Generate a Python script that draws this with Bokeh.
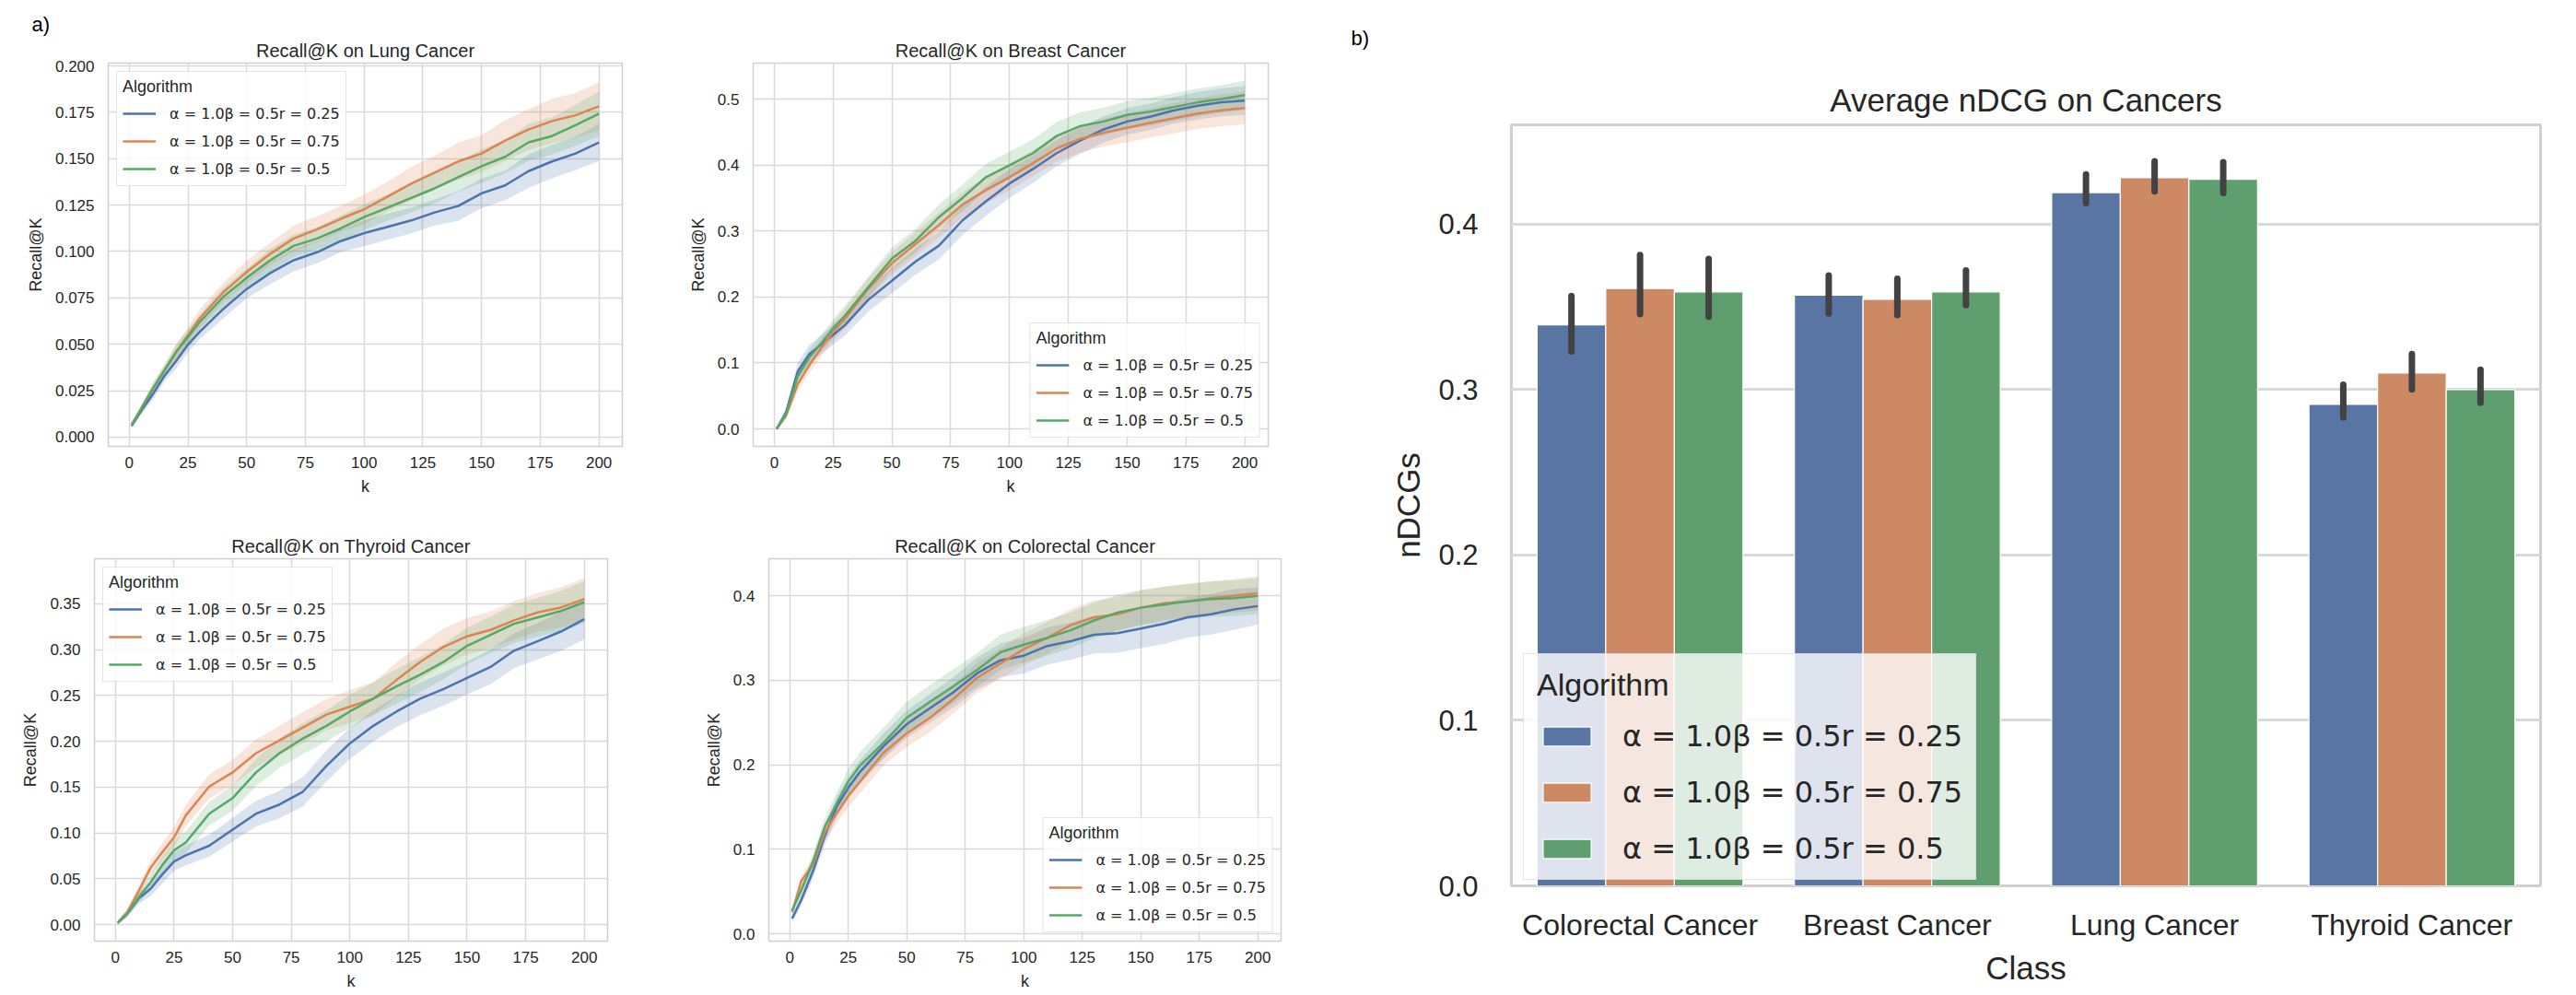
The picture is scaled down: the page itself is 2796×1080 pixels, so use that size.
from bokeh.plotting import figure
from bokeh.layouts import row, column
from bokeh.models import (Range1d, FactorRange, FixedTicker, PrintfTickFormatter,
                          Legend, LegendItem, Title, ColumnDataSource)
from bokeh.transform import dodge
from bokeh.embed import file_html
from bokeh.resources import INLINE

# ---------------- data ----------------
K = [1, 5, 10, 15, 20, 25, 30, 40, 50, 60, 70, 80, 90, 100, 110, 120, 130, 140, 150, 160, 170, 180, 190, 200]
ALGOS = ["α = 1.0β = 0.5r = 0.25", "α = 1.0β = 0.5r = 0.75", "α = 1.0β = 0.5r = 0.5"]

# Lung
lung_r025 = [.006, .014, .023, .033, .041, .0498, .0567, .069, .0798, .0884, .0953, .0996, .1056, .1099, .1133, .1167, .121, .1245, .1313, .1356, .1433, .1485, .1528, .1588]
lung_r075 = [.0069, .015, .026, .036, .046, .055, .064, .078, .089, .0987, .107, .112, .1176, .1227, .1296, .1365, .1425, .1485, .1528, .1597, .1657, .1703, .1734, .1782]
lung_r05 = [.006, .015, .026, .036, .046, .054, .062, .0755, .0858, .0953, .103, .107, .1124, .1185, .1236, .1288, .134, .140, .146, .151, .1588, .1622, .168, .1742]
lung_ci_r025 = [.001, .002, .003, .003, .004, .004, .004, .005, .005, .006, .006, .006, .006, .007, .007, .007, .007, .008, .008, .008, .009, .009, .009, .010]
lung_ci_r075 = [.001, .002, .003, .003, .004, .004, .005, .005, .006, .006, .007, .007, .007, .008, .008, .009, .009, .010, .010, .011, .011, .012, .012, .013]
lung_ci_r05 = [.001, .002, .003, .003, .004, .004, .004, .005, .005, .006, .006, .006, .007, .007, .007, .008, .008, .008, .009, .009, .010, .010, .011, .012]

# Breast
breast_r025 = [0.0, .025, .087, .1135, .128, .1425, .157, .1957, .2246, .2536, .2778, .316, .345, .372, .394, .418, .437, .454, .466, .4734, .483, .490, .495, .4976]
breast_r075 = [0.0, .020, .068, .097, .123, .147, .1667, .2126, .251, .280, .309, .340, .362, .3816, .403, .425, .4396, .449, .4565, .464, .471, .478, .483, .4865]
breast_r05 = [0.0, .022, .080, .109, .130, .152, .1715, .215, .258, .285, .321, .350, .3816, .3995, .418, .444, .459, .466, .476, .481, .488, .495, .500, .506]
breast_ci_r025 = [.002, .005, .013, .014, .014, .015, .016, .018, .019, .020, .021, .022, .022, .022, .021, .020, .020, .020, .020, .020, .020, .021, .021, .022]
breast_ci_r075 = [.002, .005, .011, .012, .013, .014, .015, .016, .017, .018, .019, .019, .020, .020, .020, .020, .021, .021, .022, .022, .023, .023, .024, .025]
breast_ci_r05 = [.002, .005, .011, .012, .013, .014, .015, .016, .017, .018, .019, .020, .020, .021, .021, .021, .021, .021, .021, .021, .021, .021, .021, .022]

# Thyroid
thyroid_r025 = [.002, .012, .0286, .039, .0547, .0687, .0756, .086, .1035, .121, .131, .145, .173, .1976, .2168, .2325, .2464, .257, .269, .281, .2987, .309, .3196, .333]
thyroid_r075 = [.002, .013, .037, .062, .079, .095, .119, .1506, .166, .187, .201, .215, .229, .2377, .2464, .267, .2865, .303, .3144, .3214, .3318, .3405, .3458, .355]
thyroid_r05 = [.002, .012, .030, .046, .065, .081, .0896, .121, .138, .166, .187, .203, .2168, .2325, .2464, .260, .2726, .2865, .304, .316, .328, .335, .342, .3517]
thyroid_ci_r025 = [.002, .004, .006, .008, .010, .010, .011, .012, .013, .014, .015, .016, .017, .017, .017, .017, .018, .018, .018, .019, .019, .020, .021, .022]
thyroid_ci_r075 = [.002, .004, .006, .008, .010, .011, .012, .013, .014, .015, .016, .017, .017, .018, .018, .019, .019, .020, .020, .020, .021, .021, .022, .023]
thyroid_ci_r05 = [.002, .004, .006, .008, .010, .011, .012, .013, .014, .015, .016, .017, .017, .018, .018, .019, .019, .019, .020, .020, .021, .021, .022, .023]

# Colorectal
colorectal_r025 = [.018, .0407, .0746, .116, .150, .1727, .1915, .2217, .248, .267, .2858, .308, .3235, .329, .3404, .346, .3536, .3555, .361, .3668, .3744, .378, .3838, .3876]
colorectal_r075 = [.0256, .063, .082, .120, .1425, .163, .180, .214, .237, .2556, .278, .3027, .3197, .3367, .350, .365, .3744, .378, .3857, .391, .3932, .397, .400, .4026]
colorectal_r05 = [.0275, .052, .086, .127, .154, .180, .199, .2255, .2556, .2745, .293, .312, .333, .342, .350, .359, .3706, .380, .3857, .3894, .3932, .396, .397, .3996]
colorectal_ci_r025 = [.005, .007, .009, .011, .012, .013, .014, .015, .016, .017, .018, .019, .020, .021, .022, .022, .022, .023, .023, .024, .024, .024, .024, .022]
colorectal_ci_r075 = [.004, .006, .008, .010, .012, .013, .014, .015, .016, .017, .017, .018, .018, .019, .019, .019, .020, .020, .020, .020, .020, .020, .020, .020]
colorectal_ci_r05 = [.004, .006, .009, .011, .013, .015, .016, .018, .019, .020, .020, .020, .021, .021, .021, .021, .021, .021, .021, .021, .021, .021, .021, .021]

# Average nDCG bars
CLASSES = ["Colorectal Cancer", "Breast Cancer", "Lung Cancer", "Thyroid Cancer"]
ndcg_r025 = [0.339, 0.357, 0.419, 0.291]
ndcg_r075 = [0.361, 0.3545, 0.428, 0.310]
ndcg_r05 = [0.359, 0.359, 0.427, 0.300]
ndcg_lo_r025 = [0.323, 0.346, 0.4126, 0.283]
ndcg_hi_r025 = [0.3566, 0.369, 0.430, 0.303]
ndcg_lo_r075 = [0.3455, 0.345, 0.4197, 0.300]
ndcg_hi_r075 = [0.3814, 0.367, 0.438, 0.3215]
ndcg_lo_r05 = [0.344, 0.351, 0.4188, 0.292]
ndcg_hi_r05 = [0.379, 0.372, 0.4375, 0.312]

# ---------------- style ----------------
COLORS = ["#4c72b0", "#dd8452", "#55a868"]
BAR_COLORS = ["#5975a4", "#cc8963", "#5f9e6e"]
TEXT = "#262626"
FONT = "Liberation Sans"
MATHFONT = "DejaVu Sans"
GRID = "#d9d9d9"
EDGE = "#d0d0d0"


def style_axes(p, tick_size, label_size, x_standoff, y_standoff, xlab_standoff, ylab_standoff):
    for ax in (p.xaxis[0], p.yaxis[0]):
        ax.axis_line_color = None
        ax.major_tick_line_color = None
        ax.minor_tick_line_color = None
        ax.major_tick_in = 0
        ax.major_tick_out = 0
        ax.minor_tick_in = 0
        ax.minor_tick_out = 0
        ax.major_label_text_font = FONT
        ax.major_label_text_font_size = tick_size
        ax.major_label_text_color = TEXT
        ax.axis_label_text_font = FONT
        ax.axis_label_text_font_size = label_size
        ax.axis_label_text_font_style = "normal"
        ax.axis_label_text_color = TEXT
    p.xaxis[0].major_label_standoff = x_standoff
    p.yaxis[0].major_label_standoff = y_standoff
    p.xaxis[0].axis_label_standoff = xlab_standoff
    p.yaxis[0].axis_label_standoff = ylab_standoff


def main_title(text, size, standoff):
    return Title(text=text, align="center", text_font=FONT, text_font_size=size,
                 text_font_style="normal", text_color=TEXT, standoff=standoff)


def panel_tag(p, text, offset, standoff):
    # the figure's own title is drawn outermost: use it for the panel tag
    p.title.text = text
    p.title.align = "left"
    p.title.offset = offset
    p.title.standoff = standoff
    p.title.text_font = FONT
    p.title.text_font_size = "22px"
    p.title.text_font_style = "normal"
    p.title.text_color = "black"


def line_panel(title, w, h, mb, yr, yticks, yfmt, series, cis, loc):
    p = figure(width=w, height=h, output_backend="svg", toolbar_location=None,
               x_range=Range1d(-8.95, 209.95), y_range=Range1d(*yr),
               min_border_left=mb[0], min_border_right=mb[1],
               min_border_top=mb[2], min_border_bottom=mb[3])
    p.add_layout(main_title(title, "20px", 6), "above")
    p.background_fill_color = "white"
    p.border_fill_color = "white"
    p.outline_line_color = EDGE
    p.outline_line_width = 1.5
    p.grid.grid_line_color = GRID
    p.grid.grid_line_width = 1.5
    p.xaxis.ticker = FixedTicker(ticks=[0, 25, 50, 75, 100, 125, 150, 175, 200])
    p.yaxis.ticker = FixedTicker(ticks=yticks)
    p.yaxis.formatter = PrintfTickFormatter(format=yfmt)
    p.xaxis.axis_label = "k"
    p.yaxis.axis_label = "Recall@K"
    style_axes(p, "17px", "18px", 11, 15, 7, 8)

    for vals, ci, c in zip(series, cis, COLORS):
        lo = [v - e for v, e in zip(vals, ci)]
        hi = [v + e for v, e in zip(vals, ci)]
        p.varea(x=K, y1=lo, y2=hi, fill_color=c, fill_alpha=0.2)
    rends = []
    for vals, c in zip(series, COLORS):
        rends.append(p.line(K, vals, line_color=c, line_width=2.5))

    leg = Legend(items=[LegendItem(label=a, renderers=[r]) for a, r in zip(ALGOS, rends)],
                 location=loc, title="Algorithm", margin=9, padding=6, spacing=6,
                 glyph_width=36, glyph_height=24, label_height=24, label_standoff=15,
                 title_standoff=6,
                 label_text_font=MATHFONT, label_text_font_size="16px", label_text_color=TEXT,
                 title_text_font=FONT, title_text_font_size="18px", title_text_font_style="normal",
                 title_text_color=TEXT,
                 background_fill_color="white", background_fill_alpha=0.8,
                 border_line_color="#cccccc", border_line_width=1)
    p.add_layout(leg)
    return p


lung = line_panel("Recall@K on Lung Cancer", 700, 540, (117, 25, 68, 56),
                  (-0.005, 0.2015), [0, .025, .05, .075, .1, .125, .15, .175, .2], "%.3f",
                  [lung_r025, lung_r075, lung_r05], [lung_ci_r025, lung_ci_r075, lung_ci_r05], "top_left")
panel_tag(lung, "a)", -83, 0)

breast = line_panel("Recall@K on Breast Cancer", 700, 540, (117, 24, 68, 56),
                    (-0.0265, 0.5545), [0, .1, .2, .3, .4, .5], "%.1f",
                    [breast_r025, breast_r075, breast_r05], [breast_ci_r025, breast_ci_r075, breast_ci_r05],
                    "bottom_right")

thyroid = line_panel("Recall@K on Thyroid Cancer", 700, 540, (102, 41, 66, 59),
                     (-0.018, 0.399), [0, .05, .1, .15, .2, .25, .3, .35], "%.2f",
                     [thyroid_r025, thyroid_r075, thyroid_r05],
                     [thyroid_ci_r025, thyroid_ci_r075, thyroid_ci_r05], "top_left")

colorectal = line_panel("Recall@K on Colorectal Cancer", 700, 540, (134, 10, 66, 59),
                        (-0.0087, 0.4436), [0, .1, .2, .3, .4], "%.1f",
                        [colorectal_r025, colorectal_r075, colorectal_r05],
                        [colorectal_ci_r025, colorectal_ci_r075, colorectal_ci_r05], "bottom_right")

# ---------------- bar chart ----------------
src = ColumnDataSource(dict(cls=CLASSES,
                            m0=ndcg_r025, m1=ndcg_r075, m2=ndcg_r05,
                            lo0=ndcg_lo_r025, hi0=ndcg_hi_r025,
                            lo1=ndcg_lo_r075, hi1=ndcg_hi_r075,
                            lo2=ndcg_lo_r05, hi2=ndcg_hi_r05))
bar = figure(width=1396, height=1080, output_backend="svg", toolbar_location=None,
             x_range=FactorRange(factors=CLASSES), y_range=Range1d(0, 0.46),
             min_border_left=240, min_border_right=39, min_border_top=132, min_border_bottom=119)
bar.add_layout(main_title("Average nDCG on Cancers", "35px", 15), "above")
panel_tag(bar, "b)", -174, 52)
bar.outline_line_color = EDGE
bar.outline_line_width = 3
bar.xgrid.grid_line_color = None
bar.ygrid.grid_line_color = GRID
bar.ygrid.grid_line_width = 3
bar.yaxis.ticker = FixedTicker(ticks=[0, 0.1, 0.2, 0.3, 0.4])
bar.yaxis.formatter = PrintfTickFormatter(format="%.1f")
bar.xaxis.axis_label = "Class"
bar.yaxis.axis_label = "nDCGs"
style_axes(bar, "31px", "35px", 24, 36, 6, 10)
bar.xaxis.major_label_text_font_size = "32px"

offsets = [-0.2667, 0.0, 0.2667]
bar_rends = []
for i, (off, c) in enumerate(zip(offsets, BAR_COLORS)):
    r = bar.vbar(x=dodge("cls", off, range=bar.x_range), top="m%d" % i, width=0.2667,
                 source=src, fill_color=c, line_color="white", line_width=1.2)
    bar_rends.append(r)
for i, off in enumerate(offsets):
    bar.segment(x0=dodge("cls", off, range=bar.x_range), x1=dodge("cls", off, range=bar.x_range),
                y0="lo%d" % i, y1="hi%d" % i, source=src,
                line_color="#424242", line_width=7, line_cap="round")

bleg = Legend(items=[LegendItem(label=a, renderers=[r]) for a, r in zip(ALGOS, bar_rends)],
              location=(13, 6), title="Algorithm", padding=14, spacing=23,
              glyph_width=65, glyph_height=26, label_height=30, label_standoff=28,
              title_standoff=17,
              label_text_font=MATHFONT, label_text_font_size="32px", label_text_color=TEXT,
              title_text_font=FONT, title_text_font_size="34px", title_text_font_style="normal",
              title_text_color=TEXT,
              background_fill_color="white", background_fill_alpha=0.8,
              border_line_color="#cccccc", border_line_width=1.5)
bar.add_layout(bleg)

layout = row(column(row(lung, breast), row(thyroid, colorectal)), bar)
open("out.html", "w").write(file_html(layout, INLINE))
